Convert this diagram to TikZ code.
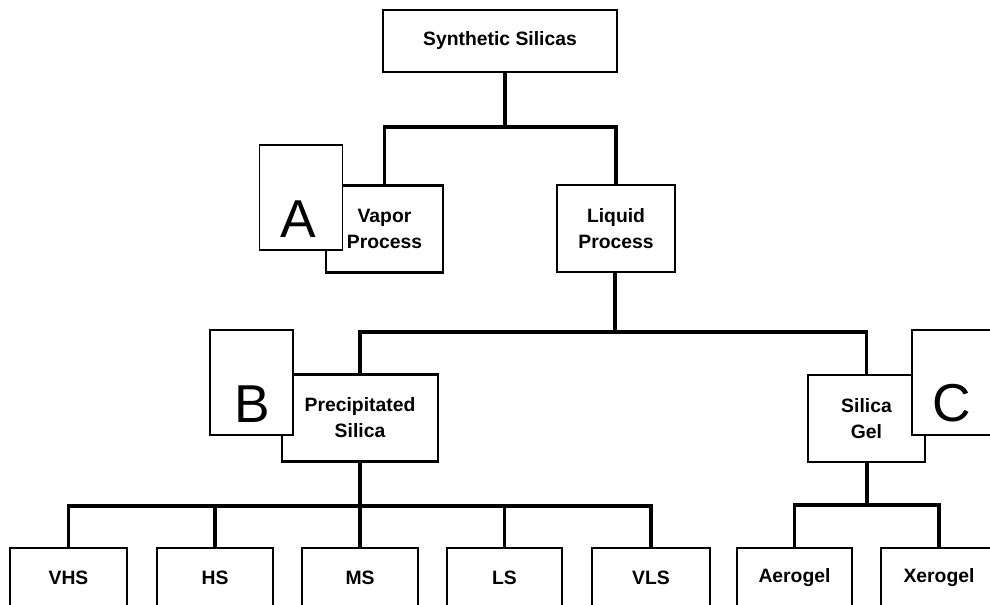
\documentclass[tikz,border=0pt]{standalone}
\usepackage{fontspec}
\setmainfont{Liberation Sans}
\begin{document}
\begin{tikzpicture}[x=0.75pt,y=-0.75pt,
  box/.style={draw=black,line width=2.2pt,fill=white,rectangle,inner sep=0pt,
    align=center,font=\fontsize{14.5}{19.5}\selectfont\bfseries,
    minimum width=#1*0.75pt},
  box/.default=117,
  tall/.style={minimum height=87*0.75pt},
  short/.style={minimum height=62*0.75pt},
  leaf/.style={minimum height=60*0.75pt},
  lbox/.style={draw=black,line width=1.1pt,fill=white,rectangle,inner sep=0pt,
    minimum width=83*0.75pt,minimum height=105*0.75pt},
  letter/.style={inner sep=0pt,font=\fontsize{40}{40}\selectfont},
  conn/.style={line width=2.6pt,line join=miter}]
\useasboundingbox (0,0) rectangle (990,605);
\clip (0,0) rectangle (990,605);
\fill[white] (0,0) rectangle (990,605);

% boxes
\node[box=234,short] (ss) at (500,41) {Synthetic Silicas};
\node[box=117,tall] (vapor) at (384.5,229) {Vapor\\Process};
\node[box=118,tall] (liquid) at (616,228.5) {Liquid\\Process};
\node[box=156,tall] (precip) at (360,418) {Precipitated\\Silica};
\node[box=117,tall] (gel) at (866.5,418.5) {Silica\\Gel};
\node[box=117,leaf] (vhs) at (68.5,578) {VHS};
\node[box=116,leaf] (hs) at (215,578) {HS};
\node[box=116,leaf] (ms) at (360,578) {MS};
\node[box=115,leaf] (ls) at (504.5,578) {LS};
\node[box=118,leaf] (vls) at (651,578) {VLS};
\node[box=115,leaf] (aero) at (794.5,578) {Aerogel};
\node[box=116,leaf] (xero) at (939,578) {Xerogel};

% junctions
\coordinate (j1) at (505,127);
\coordinate (j2) at (615,332);
\coordinate (j3) at (360,506);
\coordinate (j4) at (867,505);

% connectors
\draw[conn] (j1 |- ss.south) -- (j1);
\draw[conn] (vapor.north) |- (j1) -| (liquid.north);
\draw[conn] (j2 |- liquid.south) -- (j2);
\draw[conn] (precip.north) |- (j2) -| (gel.north);
\draw[conn] (precip.south) -- (j3);
\draw[conn] (vhs.north) |- (j3) -| (vls.north);
\draw[conn] (hs.north) -- (hs.north |- j3);
\draw[conn] (ms.north) -- (ms.north |- j3);
\draw[conn] (ls.north) -- (ls.north |- j3);
\draw[conn] (j4 |- gel.south) -- (j4);
\draw[conn] (aero.north) |- (j4) -| (xero.north);

% letter boxes
\node[lbox] (bA) at (301,197.5) {};
\node[letter] (tA) at (298,219) {A};
\node[lbox] (bB) at (251.5,382.5) {};
\node[letter] (tB) at (252,404) {B};
\node[lbox] (bC) at (953.5,382.5) {};
\node[letter] (tC) at (952,403) {C};
\end{tikzpicture}
\end{document}
